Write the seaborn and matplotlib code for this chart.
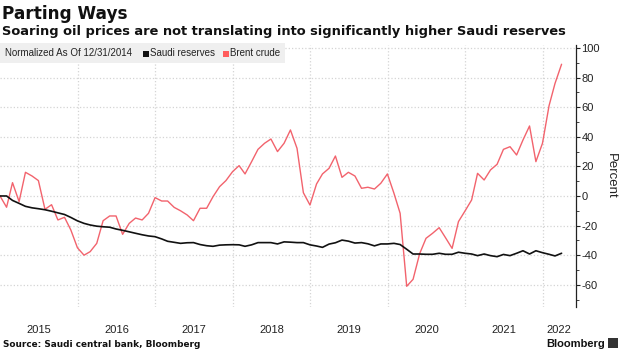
import matplotlib
matplotlib.use('Agg')
import matplotlib.pyplot as plt
import matplotlib.dates as mdates
from matplotlib.patches import Rectangle
from matplotlib.ticker import MultipleLocator, FixedLocator, NullFormatter
import seaborn as sns
import pandas as pd

# month-end values, normalized to 12/31/2014 (percent)
months = pd.date_range('2014-12-31', periods=88, freq='ME')

saudi_reserves = [0, 0, -3, -5, -7, -8, -8.6, -9.3, -10.3, -11.4, -12.5, -14.5,
                  -16.8, -18.5, -19.6, -20.4, -20.8, -21.1, -22.3, -23.2, -24.2, -25.2, -26.2, -27,
                  -27.5, -29, -30.6, -31.3, -32, -31.6, -31.5, -32.8, -33.6, -34, -33.2, -33,
                  -32.9, -33, -34, -33, -31.5, -31.5, -31.5, -32.4, -31, -31.2, -31.5, -31.5,
                  -33, -33.8, -34.7, -32.5, -31.6, -29.8, -30.5, -31.8, -31.5, -32.3, -33.7, -32.4,
                  -32.4, -32, -32.8, -36, -39.2, -39.2, -39.4, -39.4, -38.7, -39.4, -39.4, -38,
                  -38.7, -39.2, -40.3, -39.2, -40.3, -41, -39.5, -40.3, -38.7, -37, -39.2, -37,
                  -38.3, -39.4, -40.5, -38.7]

brent_crude = [0, -7.6, 9, -3.8, 16, 13.5, 10.4, -9, -5.9, -16.2, -14.4, -23,
               -35, -40, -37.6, -32, -16.7, -13.5, -13.5, -25.9, -18.5, -14.9, -16.2, -11.7,
               -1.1, -3.4, -3.4, -7.7, -10, -12.8, -16.7, -8.3, -8.3, -0.5, 6.3, 10.4,
               16.4, 20.5, 14.9, 23.2, 31.5, 35.6, 38.5, 30, 35.6, 44.6, 32.2, 2.2,
               -6.1, 8.1, 14.9, 18.7, 27, 12.6, 16, 13.5, 5.2, 5.9, 4.7, 8.6,
               14.9, 1.8, -11.7, -61, -56.3, -39, -28.6, -25.2, -21.4, -28.2, -35.4, -17.3,
               -10.1, -2.7, 15.3, 10.8, 17.6, 21.4, 31.5, 33.3, 27.7, 37.8, 47.3, 23.2,
               35.6, 61, 76, 89]

years = [2015, 2016, 2017, 2018, 2019, 2020, 2021, 2022]
y_ticks = [-60, -40, -20, 0, 20, 40, 60, 80, 100]

RED = '#f2636d'
BLACK = '#111111'

df = pd.DataFrame({'date': months, 'Saudi reserves': saudi_reserves,
                   'Brent crude': brent_crude})

sns.set_theme(style='white')
plt.rcParams['font.family'] = ['Liberation Sans', 'DejaVu Sans']
plt.rcParams['axes.unicode_minus'] = False

fig = plt.figure(figsize=(6.22, 3.5), dpi=100)
ax = fig.add_axes([0, 43 / 350, 576 / 622, 262 / 350])

sns.lineplot(data=df, x='date', y='Brent crude', color=RED, lw=1.0, ax=ax)
sns.lineplot(data=df, x='date', y='Saudi reserves', color=BLACK, lw=1.2, ax=ax)

x_start = pd.Timestamp('2014-12-31')
x_end = pd.Timestamp('2022-06-07')
ax.set_xlim(x_start, x_end)
ax.set_ylim(-75, 102)

# x axis: gridlines on year boundaries, labels centred in each visible year
year_starts = [pd.Timestamp(f'{y}-01-01') for y in years[1:]]
ax.xaxis.set_major_locator(FixedLocator(mdates.date2num(year_starts)))
ax.xaxis.set_major_formatter(NullFormatter())
mids = []
for y in years:
    a = max(pd.Timestamp(f'{y}-01-01'), x_start)
    b = min(pd.Timestamp(f'{y + 1}-01-01'), x_end)
    mids.append(a + (b - a) / 2)
ax.xaxis.set_minor_locator(FixedLocator(mdates.date2num(mids)))
ax.xaxis.set_minor_formatter(matplotlib.ticker.FixedFormatter([str(y) for y in years]))
ax.tick_params(axis='x', which='both', length=0)
ax.tick_params(axis='x', which='minor', pad=13, labelsize=8, colors='#222222')

# y axis on the right
ax.yaxis.tick_right()
ax.yaxis.set_label_position('right')
ax.yaxis.set_major_locator(FixedLocator(y_ticks))
ax.yaxis.set_minor_locator(MultipleLocator(10))
ax.tick_params(axis='y', which='major', direction='out', length=3, width=0.8,
               pad=1, labelsize=8, colors='#222222')
ax.tick_params(axis='y', which='minor', direction='out', length=2.5, width=0.6,
               color='#222222')
ax.set_ylabel('Percent', rotation=-90, labelpad=12, fontsize=9.5, color='#222222')
ax.set_xlabel('')

for s in ['top', 'left', 'bottom']:
    ax.spines[s].set_visible(False)
ax.spines['right'].set_color('#222222')
ax.spines['right'].set_linewidth(0.9)

ax.grid(which='major', axis='both', color='#d4d4d4', linestyle=':', linewidth=0.9)
ax.set_axisbelow(True)

# legend bar
fig.patches.append(Rectangle((0, 1 - 63 / 350), 285 / 622, 20 / 350,
                             transform=fig.transFigure, facecolor='#efefef',
                             edgecolor='none', zorder=0.5))
ly = 1 - 53.5 / 350
fig.text(5 / 622, ly, 'Normalized As Of 12/31/2014', fontsize=7, va='center',
         color='#222222')
fig.patches.append(Rectangle((143 / 622, 1 - 56.5 / 350), 6 / 622, 6 / 350,
                             transform=fig.transFigure, facecolor=BLACK, edgecolor='none'))
fig.text(150.5 / 622, ly, 'Saudi reserves', fontsize=7, va='center', color='#222222')
fig.patches.append(Rectangle((223 / 622, 1 - 56.5 / 350), 6 / 622, 6 / 350,
                             transform=fig.transFigure, facecolor='#ff5c5c', edgecolor='none'))
fig.text(230.5 / 622, ly, 'Brent crude', fontsize=7, va='center', color='#222222')

# titles
fig.text(2 / 622, 1 - 19.3 / 350, 'Parting Ways', fontsize=12.2, fontweight='bold',
         family='DejaVu Sans', va='baseline', color='#111111')
fig.text(2 / 622, 1 - 35.3 / 350,
         'Soaring oil prices are not translating into significantly higher Saudi reserves',
         fontsize=9.4, fontweight='bold', family='DejaVu Sans', va='baseline', color='#111111')
fig.text(3 / 622, 1 - 346.7 / 350, 'Source: Saudi central bank, Bloomberg', fontsize=6.4,
         fontweight='bold', family='DejaVu Sans', va='baseline', color='#111111')
fig.text(605 / 622, 1 - 347 / 350, 'Bloomberg', fontsize=8, fontweight='bold',
         ha='right', va='baseline', color='#111111')
fig.patches.append(Rectangle((608 / 622, 1 - 348 / 350), 10 / 622, 10 / 350,
                             transform=fig.transFigure, facecolor='#333333', edgecolor='none'))

fig.savefig('out.png', dpi=100)
